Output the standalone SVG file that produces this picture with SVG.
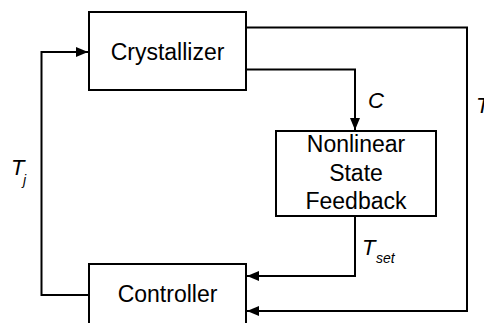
<svg xmlns="http://www.w3.org/2000/svg" width="484" height="323" viewBox="0 0 484 323">
<style>
.box{fill:#fff;stroke:#000;stroke-width:2}
.line{fill:none;stroke:#000;stroke-width:2}
.lbl{font-family:"Liberation Sans",Arial,sans-serif;font-size:23px;fill:#000}
.it{font-family:"Liberation Sans",Arial,sans-serif;font-style:italic;font-size:22px;fill:#000}
.sub{font-family:"Liberation Sans",Arial,sans-serif;font-style:italic;font-size:14px;fill:#000}
</style>
<defs>
<marker id="arr" markerUnits="userSpaceOnUse" markerWidth="13" markerHeight="10" refX="12" refY="5" orient="auto">
<path d="M0,0 L12,5 L0,10 Z" fill="#000"/>
</marker>
</defs>
<g id="connectors">
<path class="line" d="M89,295 H41.5 V52 H88" marker-end="url(#arr)"/>
<path class="line" d="M246,27.5 H467 V311 H247" marker-end="url(#arr)"/>
<path class="line" d="M246,69.5 H355 V130" marker-end="url(#arr)"/>
<path class="line" d="M355,216 V276 H247" marker-end="url(#arr)"/>
</g>
<g id="crystallizer">
<rect class="box" x="89" y="12" width="157" height="78"/>
<text class="lbl" x="167.5" y="60" text-anchor="middle">Crystallizer</text>
</g>
<g id="nonlinear">
<rect class="box" x="276" y="131" width="160" height="85"/>
<text class="lbl" x="356" y="152" text-anchor="middle">Nonlinear</text>
<text class="lbl" x="356" y="181" text-anchor="middle">State</text>
<text class="lbl" x="356" y="209" text-anchor="middle">Feedback</text>
</g>
<g id="controller">
<rect class="box" x="89" y="264" width="157" height="80"/>
<text class="lbl" x="167.5" y="302" text-anchor="middle">Controller</text>
</g>
<g id="labels">
<text class="it" x="368" y="108">C</text>
<text class="it" x="362" y="255">T</text>
<text class="sub" x="376" y="263">set</text>
<text class="it" x="11" y="175">T</text>
<text class="sub" x="23" y="185">j</text>
<text class="it" x="476" y="113">T</text>
</g>
</svg>
